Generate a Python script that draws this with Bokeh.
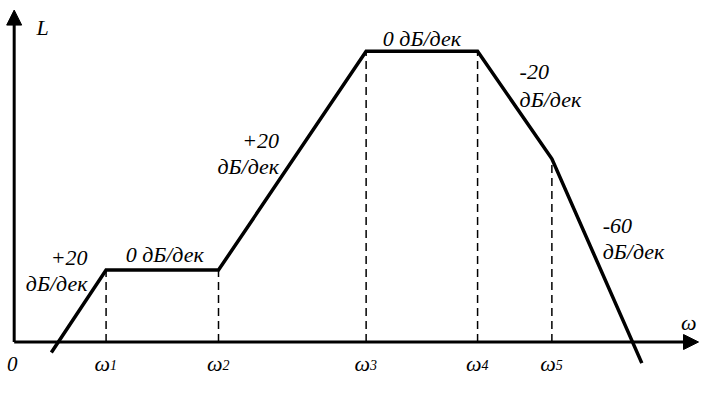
from bokeh.plotting import figure
from bokeh.models import Range1d, Arrow, NormalHead
from bokeh.core.properties import value
from bokeh.embed import file_html
from bokeh.resources import INLINE

# Asymptotic LAFC (broken line) in axis units (omega right, L up)
omega_pts = [38, 94, 209, 360, 474, 550, 642]
L_pts = [-11, 75, 75, 303, 303, 191, -22]

# corner frequencies (indices into the broken line) and their labels
corner_idx = [1, 2, 3, 4, 5]
corner_labels = ["1", "2", "3", "4", "5"]

# slope annotations
slope_text = ["+20", "дБ/дек", "0 дБ/дек", "+20", "дБ/дек", "0 дБ/дек",
              "-20", "дБ/дек", "-60", "дБ/дек"]
slope_x = [75, 75, 154, 271, 271, 417, 517, 517, 602, 602]
slope_y = [88, 61, 91, 210, 183, 316, 281, 253, 121, 94]
slope_align = ["right", "right", "center", "right", "right", "center",
               "left", "left", "left", "left"]

x_axis_end = 700
y_axis_end = 346

FONT = value("'Liberation Serif', 'Times New Roman', serif")

p = figure(width=699, height=377, output_backend="svg", toolbar_location=None,
           x_range=Range1d(-14, 701), y_range=Range1d(-37, 356),
           min_border=0, x_axis_type=None, y_axis_type=None)
p.grid.visible = False
p.outline_line_color = None
p.background_fill_color = "white"
p.border_fill_color = "white"

# axes
head = 14
p.segment(x0=[0, 0], y0=[0, 0], x1=[x_axis_end - head, 0], y1=[0, y_axis_end - head],
          line_color="black", line_width=3)
p.add_layout(Arrow(end=NormalHead(size=15, fill_color="black", line_color="black", line_width=1),
                   x_start=x_axis_end - head, y_start=0, x_end=x_axis_end, y_end=0,
                   line_width=1, line_color="black"))
p.add_layout(Arrow(end=NormalHead(size=15, fill_color="black", line_color="black", line_width=1),
                   x_start=0, y_start=y_axis_end - head, x_end=0, y_end=y_axis_end,
                   line_width=1, line_color="black"))

# dashed verticals at corner frequencies
cx = [omega_pts[i] for i in corner_idx]
cy = [L_pts[i] for i in corner_idx]
p.segment(x0=cx, y0=[0] * len(cx), x1=cx, y1=cy, line_color="black",
          line_width=1.5, line_dash="8 5")

# broken line
p.line(omega_pts, L_pts, line_color="black", line_width=3.5, line_join="miter")

# slope annotations
for t, x, y, a in zip(slope_text, slope_x, slope_y, slope_align):
    p.text(x=[x], y=[y], text=[t], text_font=FONT, text_font_style="italic",
           text_font_size="22px", text_align=a, text_baseline="middle", text_color="black")

# corner frequency labels
p.text(x=[c + 4 for c in cx], y=[-22] * len(cx), text=["ω"] * len(cx), text_font=FONT,
       text_font_style="italic", text_font_size="22px", text_align="right",
       text_baseline="middle", text_color="black")
p.text(x=[c + 4 for c in cx], y=[-24] * len(cx), text=corner_labels, text_font=FONT,
       text_font_style="italic", text_font_size="14px", text_align="left",
       text_baseline="middle", text_color="black")

# axis labels
p.text(x=[-2], y=[-23], text=["0"], text_font=FONT, text_font_style="italic",
       text_font_size="21px", text_align="center", text_baseline="middle")
p.text(x=[29], y=[328], text=["L"], text_font=FONT, text_font_style="italic",
       text_font_size="22px", text_align="center", text_baseline="middle")
p.text(x=[690], y=[20], text=["ω"], text_font=FONT, text_font_style="italic",
       text_font_size="22px", text_align="center", text_baseline="middle")

open("out.html", "w").write(file_html(p, INLINE))
